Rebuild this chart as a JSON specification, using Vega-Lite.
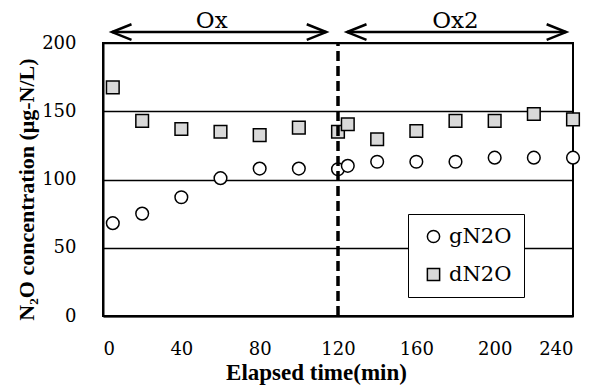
{
  "$schema": "https://vega.github.io/schema/vega-lite/v6.json",
  "width": 470,
  "height": 273,
  "autosize": {"type": "none"},
  "padding": {"left": 103, "top": 43, "right": 19, "bottom": 73},
  "background": "white",
  "config": {
    "view": {"stroke": "black", "strokeWidth": 2},
    "axis": {
      "domainColor": "black",
      "domainWidth": 2,
      "gridColor": "black",
      "gridWidth": 1.5,
      "labelFont": "DejaVu Serif",
      "labelColor": "black",
      "titleFont": "Liberation Serif",
      "titleColor": "black",
      "ticks": false
    },
    "legend": {
      "labelFont": "DejaVu Serif",
      "labelFontSize": 21,
      "labelColor": "black"
    }
  },
  "datasets": {
    "pts": [
      {"time": 5, "value": 68, "series": "gN2O"},
      {"time": 20, "value": 75, "series": "gN2O"},
      {"time": 40, "value": 87, "series": "gN2O"},
      {"time": 60, "value": 101, "series": "gN2O"},
      {"time": 80, "value": 108, "series": "gN2O"},
      {"time": 100, "value": 108, "series": "gN2O"},
      {"time": 120, "value": 107.5, "series": "gN2O"},
      {"time": 125, "value": 110, "series": "gN2O"},
      {"time": 140, "value": 113, "series": "gN2O"},
      {"time": 160, "value": 113, "series": "gN2O"},
      {"time": 180, "value": 113, "series": "gN2O"},
      {"time": 200, "value": 116, "series": "gN2O"},
      {"time": 220, "value": 116, "series": "gN2O"},
      {"time": 240, "value": 116, "series": "gN2O"},
      {"time": 5, "value": 167.5, "series": "dN2O"},
      {"time": 20, "value": 143, "series": "dN2O"},
      {"time": 40, "value": 137, "series": "dN2O"},
      {"time": 60, "value": 135, "series": "dN2O"},
      {"time": 80, "value": 132.5, "series": "dN2O"},
      {"time": 100, "value": 138, "series": "dN2O"},
      {"time": 120, "value": 135, "series": "dN2O"},
      {"time": 125, "value": 140.5, "series": "dN2O"},
      {"time": 140, "value": 129.5, "series": "dN2O"},
      {"time": 160, "value": 135.5, "series": "dN2O"},
      {"time": 180, "value": 143, "series": "dN2O"},
      {"time": 200, "value": 143, "series": "dN2O"},
      {"time": 220, "value": 148, "series": "dN2O"},
      {"time": 240, "value": 144, "series": "dN2O"}
    ],
    "arrows": [
      {"label": "Ox", "start": 4.6, "end": 114, "y": 208, "mid": 55.5},
      {"label": "Ox2", "start": 124.6, "end": 236.5, "y": 208, "mid": 180}
    ],
    "divider": [{"time": 120, "y0": 0, "y1": 200}]
  },
  "layer": [
    {
      "data": {"name": "pts"},
      "mark": {"type": "point", "filled": true, "stroke": "black", "strokeWidth": 1.5, "opacity": 1, "size": 160},
      "encoding": {
        "x": {
          "field": "time", "type": "quantitative",
          "scale": {"domain": [0, 240], "nice": false, "zero": false},
          "axis": {
            "values": [0, 40, 80, 120, 160, 200, 240],
            "grid": false,
            "labelFontSize": 18,
            "labelPadding": 24,
            "title": "Elapsed time(min)",
            "titleFontSize": 23,
            "titleFontWeight": "bold",
            "titleX": 213,
            "titleY": 63,
            "titleBaseline": "alphabetic",
            "titleAnchor": "start",
            "titleAlign": "center"
          }
        },
        "y": {
          "field": "value", "type": "quantitative",
          "scale": {"domain": [0, 200], "nice": false},
          "axis": {
            "values": [0, 50, 100, 150, 200],
            "grid": true,
            "labelFontSize": 18,
            "labelPadding": 27,
            "title": "N₂O concentration (μg-N/L)",
            "titleFontSize": 22,
            "titleFontWeight": "bold",
            "titleX": -70,
            "titleY": 146,
            "titleAngle": -90,
            "titleBaseline": "alphabetic",
            "titleAlign": "center"
          }
        },
        "shape": {
          "field": "series", "type": "nominal",
          "scale": {"domain": ["gN2O", "dN2O"], "range": ["circle", "square"]},
          "legend": {
            "title": null,
            "orient": "none",
            "legendX": 305,
            "legendY": 171,
            "strokeColor": "black",
            "fillColor": "white",
            "padding": 12,
            "rowPadding": 16,
            "symbolOffset": 3,
            "labelOffset": 5,
            "symbolSize": 150,
            "labelExpr": "datum.label + '\u00a0\u00a0'",
            "encode": {"symbols": {"update": {"stroke": {"value": "black"}, "strokeWidth": {"value": 1.5}, "opacity": {"value": 1}}}}
          }
        },
        "fill": {
          "field": "series", "type": "nominal",
          "scale": {"domain": ["gN2O", "dN2O"], "range": ["white", "#d9d9d9"]},
          "legend": {
            "title": null,
            "orient": "none",
            "legendX": 305,
            "legendY": 171,
            "strokeColor": "black",
            "fillColor": "white",
            "padding": 12,
            "rowPadding": 16,
            "symbolOffset": 3,
            "labelOffset": 5,
            "symbolSize": 150,
            "labelExpr": "datum.label + '\u00a0\u00a0'",
            "encode": {"symbols": {"update": {"stroke": {"value": "black"}, "strokeWidth": {"value": 1.5}, "opacity": {"value": 1}}}}
          }
        }
      }
    },
    {
      "data": {"name": "divider"},
      "mark": {"type": "rule", "color": "black", "strokeWidth": 3.5, "strokeDash": [10, 5]},
      "encoding": {
        "x": {"field": "time", "type": "quantitative"},
        "y": {"field": "y0", "type": "quantitative"},
        "y2": {"field": "y1"}
      }
    },
    {
      "data": {"name": "arrows"},
      "mark": {"type": "rule", "color": "black", "strokeWidth": 2.5},
      "encoding": {
        "x": {"field": "start", "type": "quantitative"},
        "x2": {"field": "end"},
        "y": {"field": "y", "type": "quantitative"}
      }
    },
    {
      "data": {"name": "arrows"},
      "mark": {"type": "point", "shape": "M2,-0.8L0,0L2,0.8", "size": 380, "filled": false, "stroke": "black", "strokeWidth": 2.5, "opacity": 1},
      "encoding": {
        "x": {"field": "start", "type": "quantitative"},
        "y": {"field": "y", "type": "quantitative"}
      }
    },
    {
      "data": {"name": "arrows"},
      "mark": {"type": "point", "shape": "M-2,-0.8L0,0L-2,0.8", "size": 380, "filled": false, "stroke": "black", "strokeWidth": 2.5, "opacity": 1},
      "encoding": {
        "x": {"field": "end", "type": "quantitative"},
        "y": {"field": "y", "type": "quantitative"}
      }
    },
    {
      "data": {"name": "arrows"},
      "mark": {"type": "text", "font": "DejaVu Serif", "fontSize": 23, "baseline": "alphabetic", "align": "center", "color": "black", "dy": -4},
      "encoding": {
        "x": {"field": "mid", "type": "quantitative"},
        "y": {"field": "y", "type": "quantitative"},
        "text": {"field": "label"}
      }
    }
  ]
}
